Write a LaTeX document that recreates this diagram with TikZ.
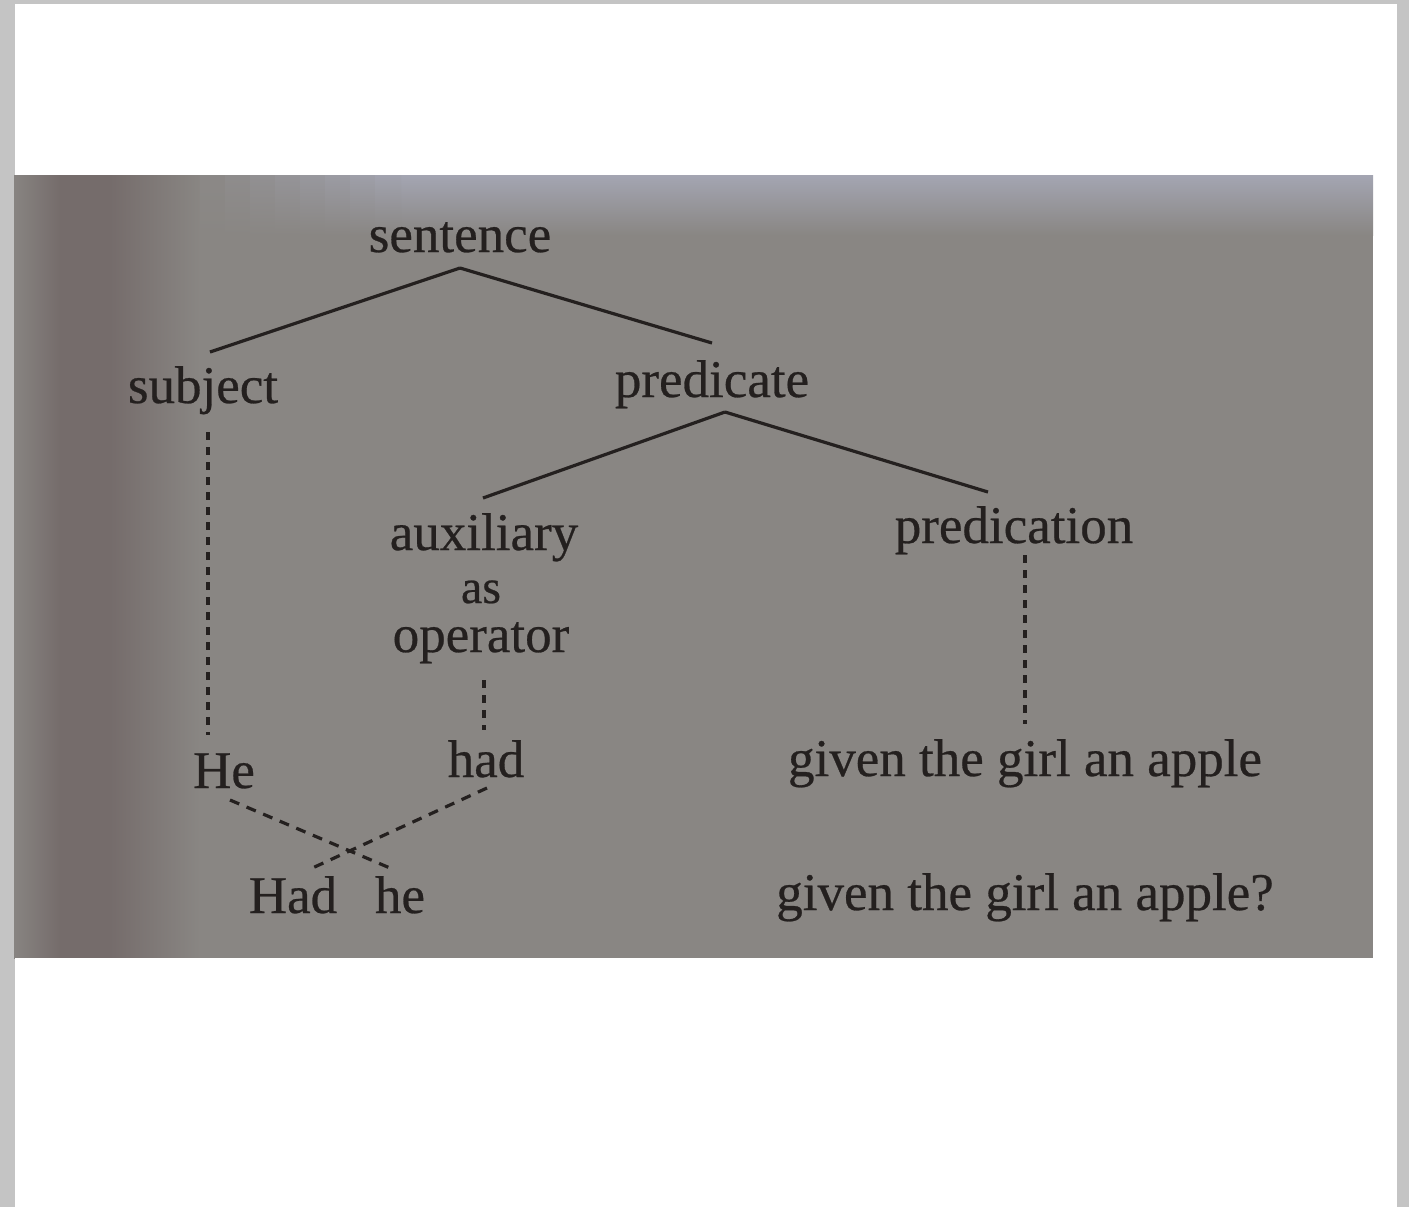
\documentclass[tikz,border=0pt]{standalone}
\usepackage{fontspec}
\setmainfont{Liberation Serif}[FakeBold=0.5]
\usetikzlibrary{calc}
\definecolor{frame}{RGB}{196,196,196}
\definecolor{photo}{RGB}{137,134,131}
\definecolor{photoleft}{RGB}{117,108,107}
\definecolor{phototop}{RGB}{166,168,182}
\definecolor{ink}{RGB}{36,32,31}
\tikzset{
  lbl/.style={anchor=base, inner sep=0pt, text=ink, font=\fontsize{26.5}{30}\selectfont},
  small/.style={lbl, font=\fontsize{24}{28}\selectfont},
  branch/.style={draw=ink, line width=1.6pt},
  dotline/.style={draw=ink, line width=1.6pt, dash pattern=on 4pt off 3.5pt},
  crossline/.style={draw=ink, line width=1.6pt, dash pattern=on 5pt off 4pt},
}
\begin{document}
\begin{tikzpicture}[x=0.5pt, y=-0.5pt]
% page and frame
\fill[frame] (0,0) rectangle (1409,1207);
\fill[white] (15,4) rectangle (1397,1207);
\useasboundingbox (0,0) rectangle (1409,1207);
% photo background
\begin{scope}
\clip (14,175) rectangle (1373,958);
\fill[photo] (14,175) rectangle (1373,958);
\shade[left color=photo, right color=photoleft] (10,170) rectangle (60,962);
\fill[photoleft] (60,170) rectangle (110,962);
\shade[left color=photoleft, right color=photo] (110,170) rectangle (200,962);
\shade[top color=phototop, bottom color=photo] (400,170) rectangle (1380,235);
\foreach \i in {0,...,7} {
  \pgfmathtruncatemacro{\p}{12*\i+8}
  \shade[top color=phototop!\p!photo, bottom color=photo] (200+25*\i,170) rectangle (226+25*\i,235);
}
\end{scope}
\fill[white] (15,958) rectangle (1397,966);

% labels
\node[lbl] (sentence) at (460,252) {sentence};
\node[lbl] (subject) at (203,403) {subject};
\node[lbl] (predicate) at (712,397) {predicate};
\node[lbl] (auxiliary) at (484,550) {auxiliary};
\node[small] (as) at (481,603) {as};
\node[lbl] (operator) at (481,652) {operator};
\node[lbl] (predication) at (1014,543) {predication};
\node[lbl] (He) at (224,788) {He};
\node[lbl] (had) at (486,777) {had};
\node[lbl] (given1) at (1025,776) {given the girl an apple};
\node[lbl] (Had) at (293,913) {Had};
\node[lbl] (he) at (400,913) {he};
\node[lbl] (given2) at (1025,910) {given the girl an apple?};

% tree branches
\draw[branch] ($(sentence.base)+(0,16)$) -- ($(subject.base)+(7,-51)$);
\draw[branch] ($(sentence.base)+(0,16)$) -- ($(predicate.base)+(0,-54)$);
\draw[branch] ($(predicate.base)+(13,15)$) -- ($(auxiliary.base)+(-1,-52)$);
\draw[branch] ($(predicate.base)+(13,15)$) -- ($(predication.base)+(-26,-51)$);

% dashed links
\draw[dotline] ($(subject.base)+(5,29)$) -- ($(He.base)+(-16,-53)$);
\draw[dotline] ($(operator.base)+(3,28)$) -- ($(had.base)+(-2,-47)$);
\draw[dotline] ($(predication.base)+(11,12)$) -- ($(given1.base)+(0,-52)$);

% crossing lines
\draw[crossline] ($(He.base)+(6,12)$) -- ($(he.base)+(-10,-45)$);
\draw[crossline] ($(had.base)+(1,11)$) -- ($(Had.base)+(15,-43)$);
\end{tikzpicture}
\end{document}
